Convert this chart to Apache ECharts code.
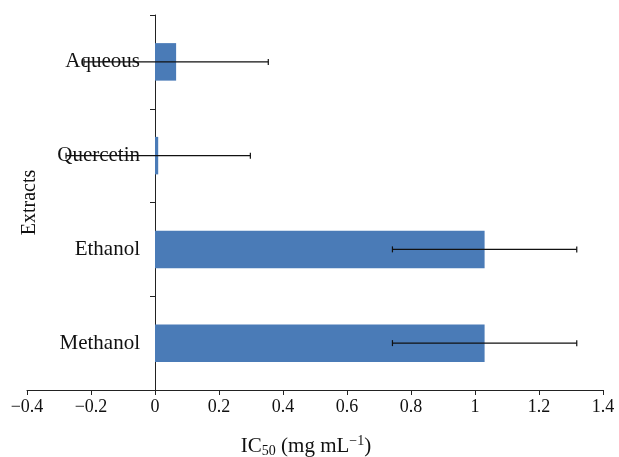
<!DOCTYPE html>
<html>
<head>
<meta charset="utf-8">
<script src="https://cdn.jsdelivr.net/npm/echarts@6/dist/echarts.min.js"></script>
<style>
  html, body { margin: 0; padding: 0; background: #fff; }
  #chart { width: 619px; height: 457px; }
</style>
</head>
<body>
<div id="chart"></div>
<script>
// categories from bottom to top
const categories = ["Methanol", "Ethanol", "Quercetin", "Aqueous"];
const ic50Values = [1.03, 1.03, 0.01, 0.066];
const errorValues = [0.288, 0.288, 0.288, 0.288];

const chart = echarts.init(document.getElementById("chart"));
const font = "Liberation Serif";

// error bar data: [categoryIndex, low, high]
const errorData = categories.map((c, i) => [
  i,
  ic50Values[i] - errorValues[i],
  ic50Values[i] + errorValues[i],
]);

const option = {
  animation: false,
  grid: { left: 27, right: 16, top: 15, bottom: 67, containLabel: false, outerBoundsMode: "none" },
  xAxis: {
    type: "value",
    min: -0.4,
    max: 1.4,
    interval: 0.2,
    name: "IC{sub|50} (mg mL{sup|\u22121})",
    nameLocation: "middle",
    nameGap: 44,
    nameTextStyle: {
      fontFamily: font,
      fontSize: 21,
      color: "#111",
      padding: [0, 18, 0, 0],
      rich: {
        sub: { fontFamily: font, fontSize: 14, verticalAlign: "bottom", padding: [10, 0, 0, 0] },
        sup: { fontFamily: font, fontSize: 14, verticalAlign: "top", padding: [0, 0, 10, 0] },
      },
    },
    axisLine: { show: true, onZero: false, lineStyle: { color: "#222", width: 1 } },
    axisTick: { show: true, inside: false, length: 5, lineStyle: { color: "#222" } },
    axisLabel: {
      fontFamily: font,
      fontSize: 18,
      color: "#111",
      margin: 8,
      formatter: (v) => String(+v.toFixed(1)).replace("-", "\u2212"),
    },
    splitLine: { show: false },
  },
  yAxis: {
    type: "category",
    data: categories,
    name: "Extracts",
    nameLocation: "middle",
    nameGap: -13,
    nameRotate: 90,
    nameTextStyle: { fontFamily: font, fontSize: 20, color: "#111" },
    axisLine: { show: true, onZero: true, lineStyle: { color: "#222", width: 1 } },
    axisTick: { show: true, length: 5, lineStyle: { color: "#222" } },
    // labels stay anchored at the grid edge, so pull them back next to the zero line
    axisLabel: { fontFamily: font, fontSize: 21, color: "#111", margin: -113 },
    splitLine: { show: false },
  },
  series: [
    {
      type: "bar",
      data: ic50Values,
      barWidth: "40%",
      itemStyle: { color: "#4a7bb7" },
      z: 2,
    },
    {
      type: "custom",
      data: errorData,
      z: 5,
      renderItem: (params, api) => {
        const idx = api.value(0);
        const lo = api.coord([api.value(1), idx]);
        const hi = api.coord([api.value(2), idx]);
        const cap = 3;
        const style = { stroke: "#111", lineWidth: 1.2 };
        return {
          type: "group",
          children: [
            { type: "line", shape: { x1: lo[0], y1: lo[1], x2: hi[0], y2: hi[1] }, style },
            { type: "line", shape: { x1: lo[0], y1: lo[1] - cap, x2: lo[0], y2: lo[1] + cap }, style },
            { type: "line", shape: { x1: hi[0], y1: hi[1] - cap, x2: hi[0], y2: hi[1] + cap }, style },
          ],
        };
      },
    },
  ],
};

chart.setOption(option);
</script>
</body>
</html>
